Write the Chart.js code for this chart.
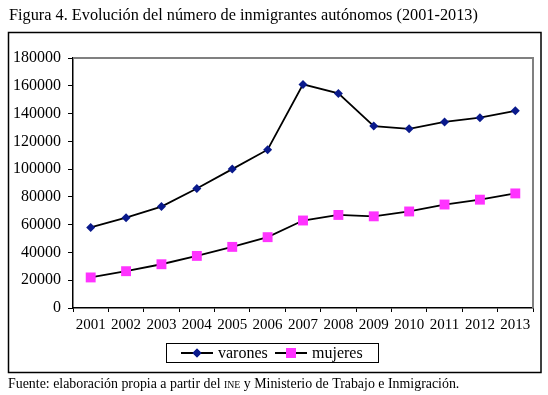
<!DOCTYPE html>
<html>
<head>
<meta charset="utf-8">
<script src="https://cdn.jsdelivr.net/npm/chart.js@4/dist/chart.umd.min.js"></script>
<style>
  body { margin: 0; background: #fff; }
  #wrap { width: 548px; height: 395px; position: relative; }
</style>
</head>
<body>
<div id="wrap"><canvas id="myChart"></canvas></div>
<script>
const years = ['2001', '2002', '2003', '2004', '2005', '2006', '2007', '2008', '2009', '2010', '2011', '2012', '2013'];
const varones = [58000, 65000, 73000, 86000, 100000, 114000, 161000, 154500, 131000, 129000, 134000, 137000, 142000];
const mujeres = [22000, 26500, 31500, 37500, 44000, 51000, 63000, 67000, 66000, 69500, 74500, 78000, 82500];
const yMax = 180000;
const yStep = 20000;

const serif = "'Liberation Serif', serif";

// title, frame, legend and source line drawn around the chart
const decor = {
  id: 'decor',
  beforeDraw(chart) {
    const c = chart.ctx;
    c.save();
    c.fillStyle = '#fff';
    c.fillRect(0, 0, chart.width, chart.height);
    c.restore();
  },
  beforeDatasetsDraw(chart) {
    const c = chart.ctx, a = chart.chartArea;
    c.save();
    c.strokeStyle = '#808080';
    c.lineWidth = 2;
    c.beginPath();
    c.moveTo(a.left, a.top);
    c.lineTo(a.right, a.top);
    c.lineTo(a.right, a.bottom);
    c.stroke();
    c.restore();
  },
  afterDraw(chart) {
    const c = chart.ctx;
    c.save();
    c.fillStyle = '#000';
    c.textBaseline = 'alphabetic';
    c.font = '16.3px ' + serif;
    c.fillText('Figura 4. Evolución del número de inmigrantes autónomos (2001-2013)', 9, 20);

    c.strokeStyle = '#000';
    c.lineWidth = 1.5;
    c.strokeRect(8.5, 32.5, 532.5, 340);

    // legend
    c.lineWidth = 1;
    c.strokeRect(166.5, 343.5, 212, 19);
    const itemX = [181, 275];
    chart.data.datasets.forEach((ds, i) => {
      const x0 = itemX[i], y = 353;
      c.strokeStyle = '#000';
      c.lineWidth = 2;
      c.beginPath();
      c.moveTo(x0, y);
      c.lineTo(x0 + 32, y);
      c.stroke();
      c.fillStyle = ds.pointBackgroundColor;
      Chart.helpers.drawPoint(c, {pointStyle: ds.pointStyle, radius: ds.pointRadius, rotation: 0, borderWidth: 0}, x0 + 16, y);
      c.fill();
    });
    c.fillStyle = '#000';
    c.font = '16px ' + serif;
    c.textBaseline = 'alphabetic';
    chart.data.datasets.forEach((ds, i) => {
      c.fillText(ds.label, itemX[i] + 37, 358);
    });

    // source line, INE in small caps
    let x = 8;
    const parts = [['Fuente: elaboración propia a partir del ', 13.9], ['INE', 9.8], [' y Ministerio de Trabajo e Inmigración.', 13.9]];
    parts.forEach(p => {
      c.font = p[1] + 'px ' + serif;
      c.fillText(p[0], x, 388);
      x += c.measureText(p[0]).width;
    });
    c.restore();
  }
};

const ctx = document.getElementById('myChart');

const chart = new Chart(ctx, {
  type: 'line',
  data: {
    labels: years,
    datasets: [{
      label: 'varones',
      data: varones,
      borderColor: '#000',
      borderWidth: 1.8,
      pointStyle: 'rectRot',
      pointRadius: 4.5,
      pointBackgroundColor: '#0a1a8c',
      pointBorderWidth: 0,
      tension: 0
    }, {
      label: 'mujeres',
      data: mujeres,
      borderColor: '#000',
      borderWidth: 1.8,
      pointStyle: 'rect',
      pointRadius: 7,
      pointBackgroundColor: '#ff33ff',
      pointBorderWidth: 0,
      tension: 0
    }]
  },
  options: {
    responsive: true,
    maintainAspectRatio: false,
    animation: false,
    layout: { padding: { left: 0, right: 15, top: 58, bottom: 0 } },
    plugins: {
      legend: { display: false },
      title: { display: false },
      tooltip: { enabled: false }
    },
    scales: {
      x: {
        offset: true,
        grid: { offset: true, drawOnChartArea: false, drawTicks: true, tickLength: 4, color: '#000' },
        border: { color: '#000', width: 1.5 },
        ticks: { color: '#000', font: { family: serif, size: 15 }, padding: 4, maxRotation: 0, autoSkip: false },
        afterFit(scale) { scale.height = 87; }
      },
      y: {
        min: 0,
        max: yMax,
        grid: { drawOnChartArea: false, drawTicks: true, tickLength: 5, color: '#000' },
        border: { color: '#000', width: 1.5 },
        ticks: {
          stepSize: yStep, color: '#000', font: { family: serif, size: 16 }, padding: 7,
          callback: v => String(v)
        },
        afterFit(scale) { scale.width = 73; }
      }
    }
  },
  plugins: [decor]
});
</script>
</body>
</html>
